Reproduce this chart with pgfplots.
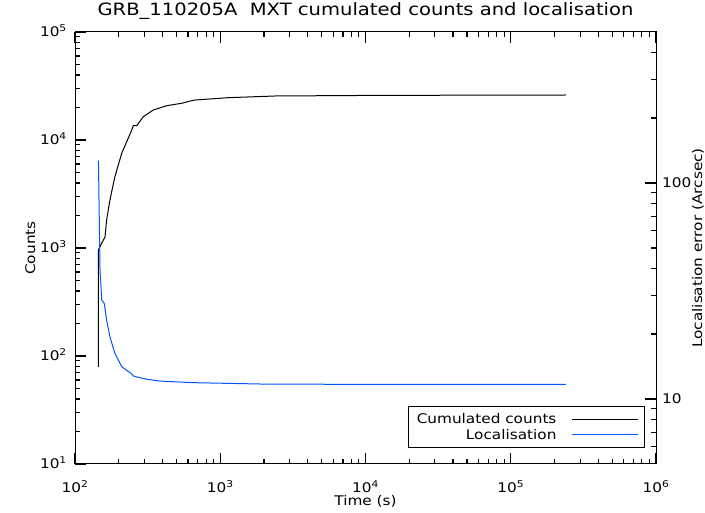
\documentclass[border=0pt]{standalone}
\usepackage{fontspec}
\setmainfont[FakeStretch=1.15]{DejaVu Sans}
\usepackage{pgfplots}
\pgfplotsset{compat=1.18}
\definecolor{locblue}{RGB}{0,85,255}
\pgfplotsset{every axis/.append style={font=\fontsize{13.3}{17}\selectfont}}
\pgfplotstableread{
t c
145 79
145 957
152.7 1112
161 1264
165 1816
174 2782
188 4543
210 7580
223 9125
246 12380
252 13560
266 13560
295 16430
346 18960
428 20780
543 21880
636 23100
670 23450
1130 24640
2382 25550
10000 25850
50000 26000
240000 26100
}\countsdata
\pgfplotstableread{
t r
145 126.8
148.7 39.6
152.8 28.7
159 27.7
165 23.2
174 19.4
188 16.3
210 14.1
246 13.05
252 12.78
272 12.6
312 12.34
385 12.1
649 11.9
1880 11.73
10000 11.68
240000 11.67
}\locdata
\begin{document}
\begin{tikzpicture}
\path (0pt,0pt) (705pt,512pt);
\begin{axis}[
  at={(75pt,48pt)}, anchor=south west,
  scale only axis, width=581pt, height=432pt,
  xmode=log, ymode=log,
  xmin=100, xmax=1e6,
  ymin=10, ymax=1e5,
  clip=false,
  tickwidth=11pt, subtickwidth=5.5pt,
  tick style={black, line width=1.1pt},
  axis line style={line width=1pt},
  xtick={100,1000,10000,100000,1000000},
  xticklabels={10\textsuperscript{2},10\textsuperscript{3},10\textsuperscript{4},10\textsuperscript{5},10\textsuperscript{6}},
  minor xtick={200,300,400,500,600,700,800,900,2000,3000,4000,5000,6000,7000,8000,9000,20000,30000,40000,50000,60000,70000,80000,90000,200000,300000,400000,500000,600000,700000,800000,900000},
  ytick={10,100,1000,10000,100000},
  yticklabels={10\textsuperscript{1},10\textsuperscript{2},10\textsuperscript{3},10\textsuperscript{4},10\textsuperscript{5}},
  minor ytick={20,30,40,50,60,70,80,90,200,300,400,500,600,700,800,900,2000,3000,4000,5000,6000,7000,8000,9000,20000,30000,40000,50000,60000,70000,80000,90000},
  ytick pos=left,
  xticklabel style={anchor=base, inner sep=0pt, yshift=-29pt},
  yticklabel style={anchor=base east, inner sep=0pt, xshift=-8pt, yshift=-5pt},
  title={GRB\_110205A\ \ MXT cumulated counts and localisation},
  title style={font=\fontsize{17}{20}\selectfont, at={(axis description cs:0.5,1)}, anchor=base, inner sep=0pt, yshift=10pt},
  xlabel={Time (s)},
  xlabel style={at={(axis description cs:0.5,0)}, anchor=base, inner sep=0pt, yshift=-42pt},
  ylabel={Counts},
  ylabel style={at={(axis description cs:-0.0688,0.5)}, anchor=base, inner sep=0pt},
  legend plot pos=right,
  legend cell align=right,
  legend image code/.code={\draw[#1] (0pt,0pt) -- (66pt,0pt);},
  legend style={at={(axis description cs:0.981,0.037)}, anchor=south east,
    draw=black, line width=1pt, inner xsep=6pt, inner ysep=5pt,
    row sep=0pt, column sep=13pt},
]
\addplot[black, line width=1pt] table[x=t, y=c] {\countsdata};
\addlegendentry{Cumulated counts}
\addlegendimage{locblue, line width=1pt}
\addlegendentry{Localisation}
\end{axis}
\begin{axis}[
  at={(75pt,48pt)}, anchor=south west,
  scale only axis, width=581pt, height=432pt,
  xmode=log, ymode=log,
  xmin=100, xmax=1e6,
  ymin=5, ymax=500,
  clip=false,
  tickwidth=11pt, subtickwidth=5.5pt,
  tick style={black, line width=1.1pt},
  axis line style={line width=1pt},
  axis x line=none, axis y line*=right,
  ytick={10,100},
  yticklabels={10,100},
  minor ytick={6,7,8,9,20,30,40,50,60,70,80,90,200,300,400},
  yticklabel style={anchor=base west, inner sep=0pt, xshift=6pt, yshift=-5pt},
  ylabel={Localisation error (Arcsec)},
  ylabel style={at={(axis description cs:1.0826,0.5)}, anchor=south, inner sep=0pt},
]
\addplot[locblue, line width=1pt] table[x=t, y=r] {\locdata};
\end{axis}
\end{tikzpicture}
\end{document}
